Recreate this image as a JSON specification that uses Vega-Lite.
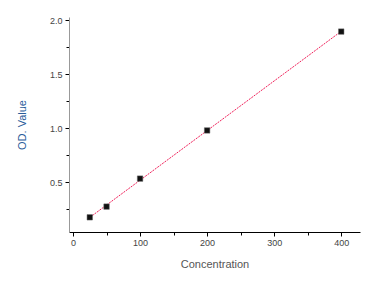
{
  "$schema": "https://vega.github.io/schema/vega-lite/v6.json",
  "width": 291,
  "height": 215,
  "autosize": "none",
  "padding": {"left": 69, "top": 17, "right": 16, "bottom": 56},
  "background": "white",
  "config": {
    "view": {"stroke": null},
    "axis": {"grid": false, "labelFont": "Liberation Sans", "titleFont": "Liberation Sans", "labelFontSize": 9, "titleFontSize": 11, "titleFontWeight": "normal", "labelColor": "#444444", "tickColor": "#000000"}
  },
  "data": {
    "values": [
      {"conc": 25, "od": 0.176},
      {"conc": 50, "od": 0.275},
      {"conc": 100, "od": 0.534},
      {"conc": 200, "od": 0.98},
      {"conc": 400, "od": 1.895}
    ]
  },
  "layer": [
    {
      "transform": [{"regression": "od", "on": "conc", "extent": [25, 400]}],
      "mark": {"type": "line", "color": "#f0205a", "strokeWidth": 1, "strokeDash": [2, 1]},
      "encoding": {
        "x": {"field": "conc", "type": "quantitative"},
        "y": {"field": "od", "type": "quantitative"}
      }
    },
    {
      "mark": {"type": "square", "color": "#111111", "opacity": 1, "size": 30, "stroke": "#666666", "strokeWidth": 0.5},
      "encoding": {
        "x": {
          "field": "conc", "type": "quantitative",
          "scale": {"domain": [-6, 428], "nice": false, "zero": false},
          "axis": {
            "title": "Concentration", "titleColor": "#555555", "titlePadding": 11,
            "values": [0, 50, 100, 150, 200, 250, 300, 350, 400],
            "tickCount": 30,
            "labelOverlap": false,
            "labelExpr": "datum.value % 100 === 0 ? datum.label : ''",
            "tickSize": {"condition": {"test": "datum.value % 100 === 0", "value": 4}, "value": 3},
            "domainColor": "#000000", "labelPadding": 2
          }
        },
        "y": {
          "field": "od", "type": "quantitative",
          "scale": {"domain": [0.04, 2.03], "nice": false, "zero": false},
          "axis": {
            "title": "OD. Value", "titleColor": "#2a5c9a", "titlePadding": 22,
            "values": [0.25, 0.5, 0.75, 1.0, 1.25, 1.5, 1.75, 2.0],
            "tickCount": 30,
            "labelOverlap": false,
            "labelExpr": "round(datum.value * 4) % 2 == 0 ? format(datum.value, '.1f') : ''",
            "tickSize": {"condition": {"test": "round(datum.value * 4) % 2 == 0", "value": 4}, "value": 3},
            "domainColor": "#999999", "labelPadding": 3
          }
        }
      }
    }
  ]
}
